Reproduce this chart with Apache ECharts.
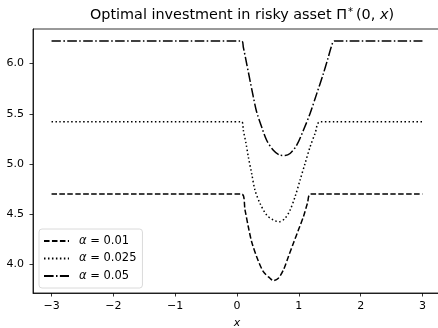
<!DOCTYPE html>
<html>
<head>
<meta charset="utf-8">
<script src="https://cdn.jsdelivr.net/npm/echarts@6/dist/echarts.min.js"></script>
<style>
  html, body { margin: 0; padding: 0; background: #fff; }
  #chart { width: 438px; height: 328px; }
</style>
</head>
<body>
<div id="chart"></div>
<script>
// Optimal investment Π*(0, x) for three risk-aversion levels α
const xTicks = [-3, -2, -1, 0, 1, 2, 3];
const yTicks = [4.0, 4.5, 5.0, 5.5, 6.0];

const alphaLabels = ['0.01', '0.025', '0.05'];

// α = 0.01
const xA = [-3, 0.076, 0.13, 0.183, 0.237, 0.318, 0.426, 0.534, 0.588, 0.669, 0.75, 0.831, 0.912, 0.993, 1.074, 1.139, 1.193, 3];
const yA = [4.70, 4.70, 4.54, 4.374, 4.225, 4.076, 3.926, 3.861, 3.837, 3.861, 3.943, 4.076, 4.209, 4.341, 4.474, 4.607, 4.70, 4.70];

// α = 0.025
const xB = [-3, 0.076, 0.102, 0.146, 0.183, 0.237, 0.291, 0.372, 0.48, 0.588, 0.685, 0.777, 0.858, 0.939, 1.02, 1.101, 1.182, 1.263, 1.344, 3];
const yB = [5.42, 5.42, 5.336, 5.204, 5.071, 4.905, 4.739, 4.607, 4.491, 4.441, 4.424, 4.458, 4.54, 4.673, 4.839, 5.005, 5.17, 5.303, 5.42, 5.42];

// α = 0.05
const xC = [-3, 0.076, 0.102, 0.156, 0.21, 0.264, 0.318, 0.399, 0.48, 0.588, 0.696, 0.777, 0.858, 0.966, 1.074, 1.182, 1.29, 1.397, 1.478, 1.533, 1.575, 3];
const yC = [6.225, 6.225, 6.165, 6.0, 5.834, 5.668, 5.518, 5.369, 5.236, 5.137, 5.088, 5.085, 5.104, 5.187, 5.336, 5.502, 5.701, 5.9, 6.066, 6.182, 6.225, 6.225];

const pairs = (xs, ys) => xs.map((x, i) => [x, ys[i]]);

const FONT = '"DejaVu Sans", sans-serif';
const dashes = [
  [5.55, 2.4],
  [1.5, 2.475],
  [9.6, 2.4, 1.5, 2.4]
];
const seriesData = [pairs(xA, yA), pairs(xB, yB), pairs(xC, yC)];
const names = alphaLabels.map(a => 'α = ' + a);

const chart = echarts.init(document.getElementById('chart'), null, { renderer: 'canvas' });

chart.setOption({
  animation: false,
  backgroundColor: '#fff',
  title: {
    text: 'Optimal investment in risky asset Π{sup|*}(0, {it|x})',
    left: 237,
    textAlign: 'center',
    top: 2,
    textStyle: {
      fontFamily: FONT,
      fontSize: 14.4,
      fontWeight: 'normal',
      color: '#000',
      rich: {
        sup: { fontFamily: FONT, fontSize: 10, color: '#000', verticalAlign: 'top', padding: [0, 3, 7, 1] },
        it: { fontFamily: FONT, fontSize: 14.4, fontStyle: 'italic', color: '#000' }
      }
    }
  },
  grid: {
    left: 33,
    top: 29,
    width: 408,
    height: 264,
    show: true,
    borderColor: '#000',
    borderWidth: 0.8,
    backgroundColor: 'transparent',
    containLabel: false,
    outerBoundsMode: 'none'
  },
  legend: {
    orient: 'vertical',
    left: 39,
    top: 229,
    padding: [6, 6, 6, 4],
    itemWidth: 25,
    itemHeight: 11,
    itemGap: 5.5,
    borderColor: '#d0d0d0',
    borderWidth: 0.8,
    borderRadius: 3,
    backgroundColor: 'rgba(255,255,255,0.8)',
    itemStyle: { opacity: 0 },
    data: names,
    formatter: function (name) {
      return '{i|α} = ' + name.split('= ')[1];
    },
    textStyle: {
      fontFamily: FONT,
      fontSize: 11.5,
      color: '#000',
      padding: [0, 0, 0, 5],
      rich: {
        i: { fontFamily: FONT, fontSize: 11.5, fontStyle: 'italic', color: '#000' }
      }
    }
  },
  xAxis: {
    type: 'value',
    min: -3.3,
    max: 3.3,
    name: 'x',
    nameLocation: 'middle',
    nameGap: 25,
    nameTextStyle: { fontFamily: FONT, fontSize: 11, fontStyle: 'italic', color: '#000' },
    splitLine: { show: false },
    axisLine: { show: true, onZero: false, lineStyle: { color: '#000', width: 0.8 } },
    axisTick: { show: true, length: 3.5, lineStyle: { color: '#000', width: 0.8 }, customValues: xTicks },
    axisLabel: {
      customValues: xTicks,
      margin: 8,
      fontFamily: FONT,
      fontSize: 11,
      color: '#000',
      formatter: v => String(v).replace('-', '\u2212')
    }
  },
  yAxis: {
    type: 'value',
    min: 3.714,
    max: 6.345,
    splitLine: { show: false },
    axisLine: { show: true, onZero: false, lineStyle: { color: '#000', width: 0.8 } },
    axisTick: { show: true, length: 3.5, lineStyle: { color: '#000', width: 0.8 }, customValues: yTicks },
    axisLabel: {
      customValues: yTicks,
      margin: 9,
      fontFamily: FONT,
      fontSize: 11,
      color: '#000',
      formatter: v => v.toFixed(1)
    }
  },
  series: seriesData.map((d, i) => ({
    name: names[i],
    type: 'line',
    data: d,
    smooth: 0.3,
    symbol: 'none',
    color: '#000',
    lineStyle: { color: '#000', width: 1.5, type: dashes[i], cap: 'butt' }
  }))
});
</script>
</body>
</html>
